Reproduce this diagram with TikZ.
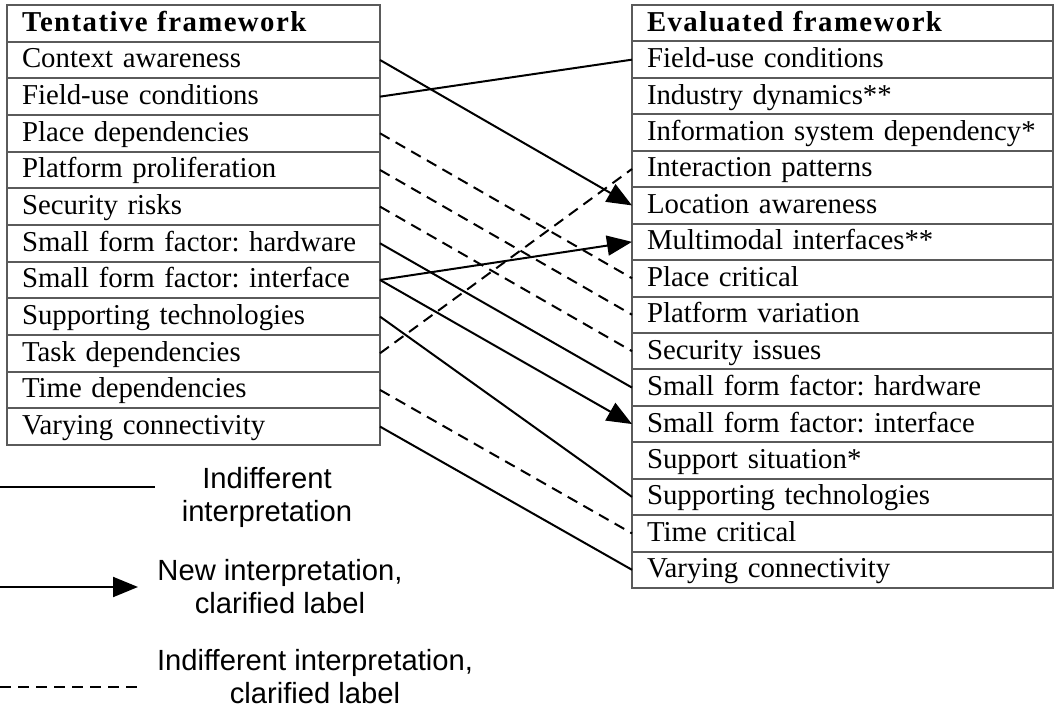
\documentclass[tikz,border=0pt]{standalone}
\usepackage{fontspec}
\setmainfont{Liberation Serif}
\newfontfamily\headfont[LetterSpace=5]{Liberation Serif}
\newfontfamily\legendfont{Liberation Sans}
\usepackage{xcolor}
\usetikzlibrary{arrows.meta, positioning}
\definecolor{gridcolor}{RGB}{90, 90, 90}
\frenchspacing

\begin{document}
\begin{tikzpicture}[
    x=0.5pt, y=-0.5pt,
    every node/.style={outer sep=0pt},
    cell/.style={draw=gridcolor, line width=1pt, inner xsep=7.5pt, inner ysep=0pt, align=left, text height=10.5pt, text depth=2.5pt, font=\fontsize{14.4}{16}\selectfont},
    lcell/.style={cell, text width=171.5pt, minimum height=18.33pt},
    rcell/.style={cell, text width=195.5pt, minimum height=18.22pt},
    head/.style={font=\fontsize{14.4}{16}\selectfont\headfont\bfseries},
    same/.style={line width=1pt},
    newlabel/.style={line width=1pt, -{Triangle[length=12.5pt, width=10pt]}},
    clarified/.style={line width=1pt, dash pattern=on 5.5pt off 3.5pt},
    legend/.style={font=\fontsize{14.6}{16.5}\selectfont\legendfont, align=center}
]
    \useasboundingbox (0,0) rectangle (1056,710);

    % Tentative framework
    \node[lcell, head, anchor=north west] (lhead) at (7,5) {Tentative framework};
    \node[lcell, below=0pt of lhead] (l1) {Context awareness};
    \node[lcell, below=0pt of l1] (l2) {Field-use conditions};
    \node[lcell, below=0pt of l2] (l3) {Place dependencies};
    \node[lcell, below=0pt of l3] (l4) {Platform proliferation};
    \node[lcell, below=0pt of l4] (l5) {Security risks};
    \node[lcell, below=0pt of l5] (l6) {Small form factor: hardware};
    \node[lcell, below=0pt of l6] (l7) {Small form factor: interface};
    \node[lcell, below=0pt of l7] (l8) {Supporting technologies};
    \node[lcell, below=0pt of l8] (l9) {Task dependencies};
    \node[lcell, below=0pt of l9] (l10) {Time dependencies};
    \node[lcell, below=0pt of l10] (l11) {Varying connectivity};

    % Evaluated framework
    \node[rcell, head, anchor=north west] (rhead) at (632,5) {Evaluated framework};
    \node[rcell, below=0pt of rhead] (r1) {Field-use conditions};
    \node[rcell, below=0pt of r1] (r2) {Industry dynamics**};
    \node[rcell, below=0pt of r2] (r3) {Information system dependency*};
    \node[rcell, below=0pt of r3] (r4) {Interaction patterns};
    \node[rcell, below=0pt of r4] (r5) {Location awareness};
    \node[rcell, below=0pt of r5] (r6) {Multimodal interfaces**};
    \node[rcell, below=0pt of r6] (r7) {Place critical};
    \node[rcell, below=0pt of r7] (r8) {Platform variation};
    \node[rcell, below=0pt of r8] (r9) {Security issues};
    \node[rcell, below=0pt of r9] (r10) {Small form factor: hardware};
    \node[rcell, below=0pt of r10] (r11) {Small form factor: interface};
    \node[rcell, below=0pt of r11] (r12) {Support situation*};
    \node[rcell, below=0pt of r12] (r13) {Supporting technologies};
    \node[rcell, below=0pt of r13] (r14) {Time critical};
    \node[rcell, below=0pt of r14] (r15) {Varying connectivity};

    % Mappings
    \draw[newlabel] (l1.east) -- (r5.west);
    \draw[same] (l2.east) -- (r1.west);
    \draw[clarified] (l3.east) -- (r7.west);
    \draw[clarified] (l4.east) -- (r8.west);
    \draw[clarified] (l5.east) -- (r9.west);
    \draw[same] (l6.east) -- (r10.west);
    \draw[newlabel] (l7.east) -- (r6.west);
    \draw[newlabel] (l7.east) -- (r11.west);
    \draw[same] (l8.east) -- (r13.west);
    \draw[clarified] (l9.east) -- (r4.west);
    \draw[clarified] (l10.east) -- (r14.west);
    \draw[same] (l11.east) -- (r15.west);

    % Legend
    \coordinate (k1a) at (0,487);
    \coordinate (k1b) at (155,487);
    \draw[same] (k1a) -- (k1b);
    \node[legend] (k1) at (267,497) {Indifferent\\interpretation};
    \coordinate (k2a) at (0,587);
    \coordinate (k2b) at (138,587);
    \draw[newlabel] (k2a) -- (k2b);
    \node[legend] (k2) at (280,587) {New interpretation,\\clarified label};
    \coordinate (k3a) at (0,687);
    \coordinate (k3b) at (142,687);
    \draw[clarified] (k3a) -- (k3b);
    \node[legend] (k3) at (315,677) {Indifferent interpretation,\\clarified label};
\end{tikzpicture}
\end{document}
